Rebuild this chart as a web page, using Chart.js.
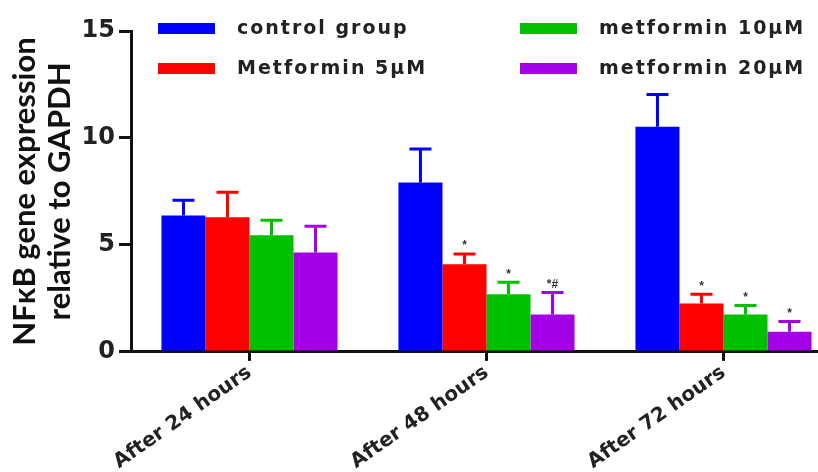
<!DOCTYPE html>
<html>
<head>
<meta charset="UTF-8">
<title>NFkB expression</title>
<script src="https://cdn.jsdelivr.net/npm/chart.js"></script>
<style>
  html, body { margin: 0; padding: 0; background: #fff; overflow: hidden; }
  .wrap { position: relative; width: 842px; height: 472px; }
</style>
</head>
<body>
<div class="wrap"><canvas id="grafico"></canvas></div>
<script>
// dados
const categories = ['After 24 hours', 'After 48 hours', 'After 72 hours'];
const seriesNames = ['control group', 'Metformin 5µM', 'metformin 10µM', 'metformin 20µM'];
const seriesColors = ['#0000FF', '#FF0000', '#00C000', '#A300E6'];

const controlMean = [6.38, 7.92, 10.52];
const controlErr  = [0.71, 1.56, 1.51];
const met5Mean    = [6.29, 4.10, 2.26];
const met5Err     = [1.17, 0.48, 0.43];
const met10Mean   = [5.45, 2.69, 1.75];
const met10Err    = [0.70, 0.56, 0.42];
const met20Mean   = [4.65, 1.75, 0.94];
const met20Err    = [1.22, 1.03, 0.48];

const controlMarks = ['', '', ''];
const met5Marks    = ['', '*', '*'];
const met10Marks   = ['', '*', '*'];
const met20Marks   = ['', '*#', '*'];

const yTicks = [0, 5, 10, 15];

const means = [controlMean, met5Mean, met10Mean, met20Mean];
const errs  = [controlErr, met5Err, met10Err, met20Err];
const marks = [controlMarks, met5Marks, met10Marks, met20Marks];

const fonteEixo = '"DejaVu Sans", "Liberation Sans", Arial, sans-serif';

// barras de erro (só para cima) + asteriscos
const errorBars = {
    id: 'errorBars',
    afterDatasetsDraw(chart) {
        const ctx = chart.ctx;
        const y = chart.scales.y;
        chart.data.datasets.forEach((ds, i) => {
            const meta = chart.getDatasetMeta(i);
            meta.data.forEach((bar, j) => {
                const top = y.getPixelForValue(ds.data[j] + errs[i][j]);
                ctx.save();
                ctx.strokeStyle = ds.backgroundColor;
                ctx.lineWidth = 3;
                ctx.beginPath();
                ctx.moveTo(bar.x, bar.y);
                ctx.lineTo(bar.x, top);
                ctx.moveTo(bar.x - 11, top);
                ctx.lineTo(bar.x + 11, top);
                ctx.stroke();
                if (marks[i][j]) {
                    ctx.fillStyle = '#333';
                    ctx.font = 'bold 12px "Liberation Sans", Arial, sans-serif';
                    ctx.textAlign = 'center';
                    ctx.textBaseline = 'bottom';
                    ctx.fillText(marks[i][j], bar.x, top - 2);
                }
                ctx.restore();
            });
        });
    }
};

// legenda em duas colunas dentro da área do gráfico
const legendaGrid = {
    id: 'legendaGrid',
    afterDraw(chart) {
        const ctx = chart.ctx;
        const cols = [158, 520];
        const rows = [28, 68];
        ctx.save();
        ctx.font = 'bold 19px ' + fonteEixo;
        ctx.letterSpacing = '2px';
        ctx.textBaseline = 'middle';
        chart.data.datasets.forEach((ds, i) => {
            const cx = cols[Math.floor(i / 2)];
            const cy = rows[i % 2];
            ctx.fillStyle = ds.backgroundColor;
            ctx.fillRect(cx, cy - 5, 57, 11);
            ctx.fillStyle = '#222';
            ctx.fillText(ds.label, cx + 79, cy + 1);
        });
        ctx.restore();
    }
};

const ctx = document.getElementById('grafico').getContext('2d');
new Chart(ctx, {
    type: 'bar',
    data: {
        labels: categories,
        datasets: means.map((m, i) => ({
            label: seriesNames[i],
            data: m,
            backgroundColor: seriesColors[i],
            borderWidth: 0,
            barPercentage: 1.0,
            categoryPercentage: 0.743
        }))
    },
    options: {
        responsive: true,
        maintainAspectRatio: false,
        animation: false,
        layout: { padding: { top: 31, right: 0, bottom: -2, left: 0 } },
        plugins: {
            legend: { display: false },
            tooltip: { enabled: false }
        },
        scales: {
            x: {
                grid: { display: true, drawOnChartArea: false, offset: false, color: '#111', lineWidth: 3, tickLength: 9 },
                border: { display: true, color: '#111', width: 3 },
                ticks: {
                    color: '#222',
                    minRotation: 35,
                    maxRotation: 35,
                    padding: 0,
                    font: { family: fonteEixo, size: 20, weight: 'bold' }
                }
            },
            y: {
                min: 0,
                max: 15,
                afterFit(scale) { scale.width = 131; },
                afterBuildTicks(scale) { scale.ticks = yTicks.map(v => ({ value: v })); },
                grid: { display: true, drawOnChartArea: false, color: '#111', lineWidth: 3, tickLength: 12 },
                border: { display: true, color: '#111', width: 3 },
                ticks: {
                    color: '#222',
                    padding: 4,
                    font: { family: fonteEixo, size: 24, weight: 'bold' }
                },
                title: {
                    display: true,
                    text: ['NFκB gene expression', 'relative to GAPDH'],
                    color: '#111',
                    padding: { top: 8, bottom: 0 },
                    font: { family: 'Lato, "Open Sans", sans-serif', size: 31, weight: 'bold', lineHeight: 1.12 }
                }
            }
        }
    },
    plugins: [errorBars, legendaGrid]
});
</script>
</body>
</html>
